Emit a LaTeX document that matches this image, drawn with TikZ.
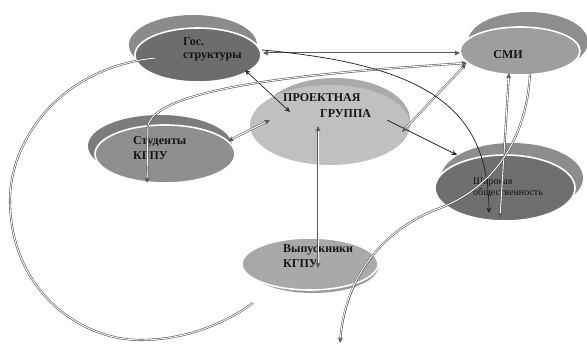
\documentclass[tikz,border=0pt]{standalone}
\usepackage{fontspec}
\setmainfont{Liberation Serif}
\usetikzlibrary{shapes.geometric,arrows.meta}
\definecolor{gosF}{HTML}{6D6D6D}\definecolor{gosB}{HTML}{8B8B8B}
\definecolor{smiF}{HTML}{9E9E9E}\definecolor{smiB}{HTML}{8E8E8E}
\definecolor{projF}{HTML}{C0C0C0}\definecolor{projB}{HTML}{AAAAAA}
\definecolor{studF}{HTML}{8F8F8F}\definecolor{studB}{HTML}{7C7C7C}
\definecolor{shirF}{HTML}{6F6F6F}\definecolor{shirB}{HTML}{8D8D8D}
\definecolor{vypF}{HTML}{A9A9A9}\definecolor{vypB}{HTML}{9A9A9A}
\definecolor{txt}{HTML}{151515}
\begin{document}
\begin{tikzpicture}[x=1pt,y=-1pt,
  >={Stealth[length=5.5pt,width=5pt]},
  backell/.style={ellipse, inner sep=0pt, draw=none},
  mainell/.style={ellipse, inner sep=0pt, draw=white, line width=1.6pt},
  lbl/.style={font=\fontsize{12}{15}\selectfont\bfseries, text=txt, align=left, inner sep=0pt},
  dblbase/.style={draw=black!65, line width=2.1pt},
  dbl/.style={dblbase, postaction={draw=white, line width=0.9pt, arrows=-}},
  dblb/.style={dblbase, <->, postaction={draw=white, line width=0.9pt, arrows=-, shorten <=5pt, shorten >=5pt}},
  dble/.style={dblbase, ->, postaction={draw=white, line width=0.9pt, arrows=-, shorten >=5pt}},
  sgl/.style={draw=black!85, line width=0.75pt}]
\useasboundingbox (0,0) rectangle (587,345);
\fill[white] (0,0) rectangle (587,345);

% back ellipses
\node[backell, fill=gosB, minimum width=128pt, minimum height=60pt] (gosb) at (193,45) {};
\node[backell, fill=smiB, minimum width=120pt, minimum height=60pt] (smib) at (528,42) {};
\node[backell, fill=projB, minimum width=150pt, minimum height=84pt] (projb) at (335,120) {};
\node[backell, fill=studB, minimum width=144pt, minimum height=62pt] (studb) at (160,146) {};
\node[backell, fill=shirB, minimum width=142pt, minimum height=70pt] (shirb) at (512,178) {};
\node[backell, fill=vypB, minimum width=130pt, minimum height=52pt] (vypb) at (313,267) {};

% main ellipses
\node[mainell, fill=gosF, minimum width=126pt, minimum height=54pt] (gos) at (198,55) {};
\node[mainell, fill=smiF, minimum width=120pt, minimum height=48pt] (smi) at (520,51) {};
\node[ellipse, inner sep=0pt, fill=projF, minimum width=160pt, minimum height=80pt] (proj) at (330,125) {};
\node[mainell, fill=studF, minimum width=140pt, minimum height=58pt] (stud) at (165,154) {};
\node[mainell, fill=shirF, minimum width=140pt, minimum height=66pt] (shir) at (505,188) {};
\node[mainell, fill=vypF, minimum width=136pt, minimum height=52pt] (vyp) at (310,264) {};

% labels
\node[lbl, anchor=west, font=\fontsize{12}{13}\selectfont\bfseries] (gost) at (183,49) {Гос.\\структуры};
\node[lbl] (smit) at (508,55) {СМИ};
\node[lbl, anchor=west, font=\fontsize{12}{16}\selectfont\bfseries] (projt) at (283,106) {ПРОЕКТНАЯ\\\hspace*{37pt}ГРУППА};
\node[lbl, anchor=west] (studt) at (133,148) {Студенты\\КГПУ};
\node[lbl, anchor=west, font=\fontsize{10}{11}\selectfont] (shirt) at (473,188) {Широкая\\общественность};
\node[lbl, anchor=west] (vypt) at (283,256) {Выпускники\\КГПУ};

\coordinate (jend) at (340,343);
\coordinate (kend) at (253,303);

% connectors
\draw[dblb] ([shift={(65,-2)}]gos.center) -- ([shift={(-60,2)}]smi.center);
\draw[sgl,<->] ([shift={(47,15)}]gos.center) -- ([shift={(-40,-13)}]proj.center);
\draw[dblb] ([shift={(63,-13)}]stud.center) -- ([shift={(-60,-5)}]proj.center);
\draw[dblb] ([shift={(-12,1)}]proj.center) -- ([shift={(8,4)}]vyp.center);
\draw[sgl,->] ([shift={(57,-5)}]proj.center) -- ([shift={(-48,-33)}]shir.center);
\draw[dblb] ([shift={(72,7)}]proj.center) -- ([shift={(-54,13)}]smi.center);
\draw[dblb] ([shift={(-53,12)}]smi.center) .. controls (330,72) and (160,85) .. (148,125) -- ([shift={(-18,29)}]stud.center);
\draw[sgl,->] ([shift={(64,-5)}]gos.center) .. controls (430,65) and (488,110) .. ([shift={(-16,25)}]shir.center);
\draw[dblb] ([shift={(-11,22)}]smi.center) -- ([shift={(-5,30)}]shir.center);
\draw[dble] ([shift={(10,21)}]smi.center) .. controls (528,130) and (500,185) .. (440,208) .. controls (380,230) and (345,280) .. (jend);
\draw[dbl] ([shift={(-43,3)}]gos.center) .. controls (60,68) and (10,140) .. (10,200) .. controls (10,290) and (80,340) .. (140,340) .. controls (190,340) and (230,320) .. (kend);
\end{tikzpicture}
\end{document}
